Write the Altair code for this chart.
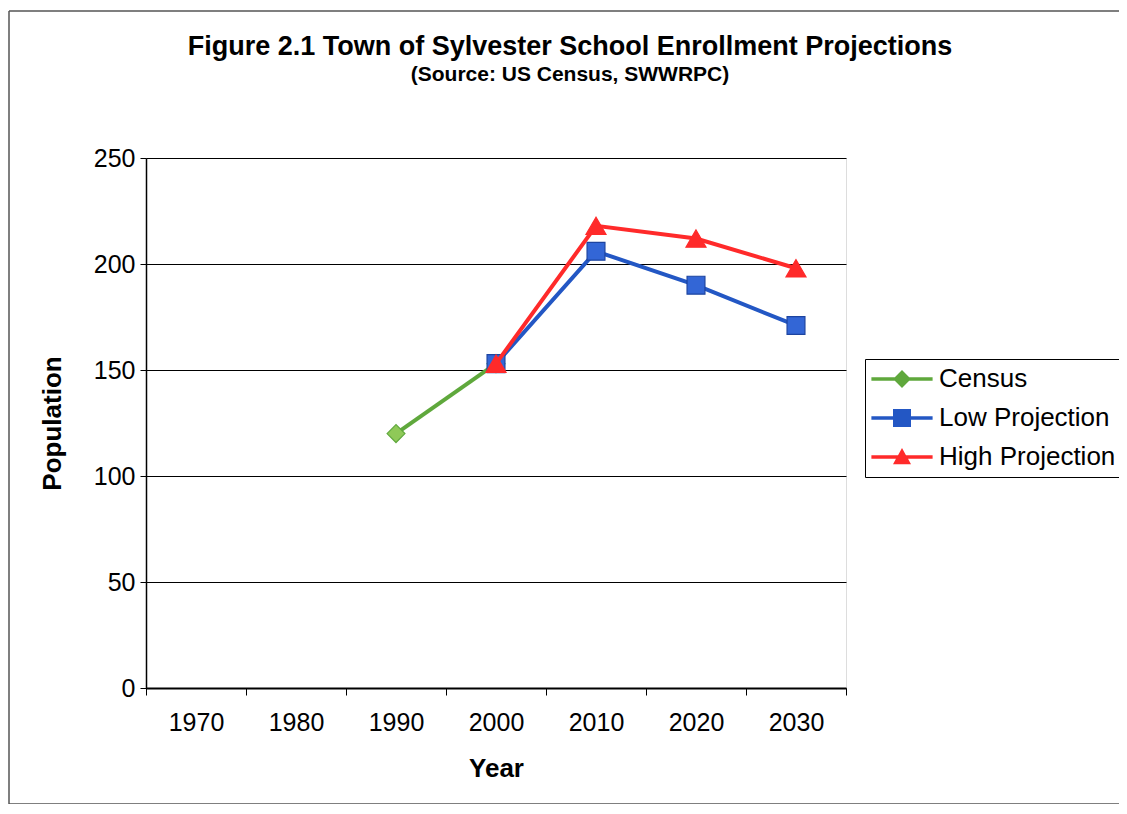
import altair as alt
import pandas as pd

years = ["1970", "1980", "1990", "2000", "2010", "2020", "2030"]
series_names = ["Census", "Low Projection", "High Projection"]
census = [None, None, 120, 153, None, None, None]
low = [None, None, None, 153, 206, 190, 171]
high = [None, None, None, 153, 218, 212, 198]
y_ticks = [0, 50, 100, 150, 200, 250]

rows = []
for name, vals in zip(series_names, [census, low, high]):
    for yr, v in zip(years, vals):
        if v is not None:
            rows.append({"year": yr, "value": v, "series": name})
df = pd.DataFrame(rows)

line_colors = ["#5fa83c", "#2357c4", "#ff2a2a"]
fill_colors = ["#8fc958", "#3366d6", "#ff2a2a"]
edge_colors = ["#5fa83c", "#1d44a0", "#ff2a2a"]
shapes = ["diamond", "square", "triangle-up"]
sizes = [320, 320, 400]

legend_paths = [
    "M-3.4,-0.2H-0.8L0,-1L0.8,-0.2H3.4V0.2H0.8L0,1L-0.8,0.2H-3.4Z",
    "M-3.4,-0.2H-1V-1H1V-0.2H3.4V0.2H1V1H-1V0.2H-3.4Z",
    "M-3.4,-0.2H-0.44L0,-1L0.44,-0.2H3.4V0.2H0.67L1,0.8H-1L-0.67,0.2H-3.4Z",
]

FONT = "Liberation Sans"

x_enc = alt.X(
    "year:O",
    scale=alt.Scale(type="band", domain=years, paddingInner=0, paddingOuter=0),
    axis=alt.Axis(
        title="Year", tickBand="extent", labelAngle=0, labelFontSize=25,
        labelFont=FONT, labelColor="black", labelPadding=15, tickSize=7,
        tickColor="black", domainColor="black", domainWidth=2,
        titleFont=FONT, titleFontSize=26, titleFontWeight="bold",
        titleColor="black", titleY=80, titleBaseline="middle", grid=False,
    ),
)
y_enc = alt.Y(
    "value:Q",
    scale=alt.Scale(domain=[0, 250], nice=False, zero=True),
    axis=alt.Axis(
        values=y_ticks, title="Population", labelFontSize=25, labelFont=FONT,
        labelColor="black", labelPadding=5, tickSize=6, tickColor="black",
        domainColor="black", domainWidth=1.5, grid=True, gridColor="black",
        gridWidth=1, titleFont=FONT, titleFontSize=26, titleFontWeight="bold",
        titleColor="black", titleX=-94, titleY=265, titleBaseline="middle",
    ),
)

base = alt.Chart(df)
layers = []

# chart-area border (top, left, bottom edges; right edge lies off the page)
one = pd.DataFrame({"a": [0]})
border = dict(stroke="#555555", strokeWidth=1.5)
layers.append(alt.Chart(one).mark_rule(**border).encode(
    x=alt.value(-137), x2=alt.value(1000), y=alt.value(-147)))
layers.append(alt.Chart(one).mark_rule(**border).encode(
    x=alt.value(-137), y=alt.value(-147), y2=alt.value(646)))
layers.append(alt.Chart(one).mark_rule(**border).encode(
    x=alt.value(-137), x2=alt.value(1000), y=alt.value(646)))

for i, name in enumerate(series_names):
    sub = base.transform_filter(alt.datum.series == name)
    layers.append(
        sub.mark_line(strokeWidth=4, color=line_colors[i]).encode(x=x_enc, y=y_enc)
    )
    layers.append(
        sub.mark_point(
            shape=shapes[i], filled=True, size=sizes[i], fill=fill_colors[i],
            stroke=edge_colors[i], strokeWidth=1.2, opacity=1,
        ).encode(x=x_enc, y=y_enc)
    )

legend_props = dict(
    title=None, orient="none", legendX=719, legendY=201,
    labelFont=FONT, labelFontSize=26, labelColor="black",
    symbolSize=324, symbolOpacity=1, symbolStrokeWidth=0,
    symbolOffset=17, labelOffset=24, padding=7, rowPadding=13,
    strokeColor="black", fillColor="white", labelLimit=400,
)

legend_layer = base.mark_point(filled=True, opacity=0).encode(
    x=x_enc,
    y=y_enc,
    color=alt.Color(
        "series:N",
        scale=alt.Scale(domain=series_names, range=line_colors),
        legend=alt.Legend(**legend_props),
    ),
    shape=alt.Shape(
        "series:N",
        scale=alt.Scale(domain=series_names, range=legend_paths),
        legend=alt.Legend(**legend_props),
    ),
)
layers.append(legend_layer)

chart = alt.layer(*layers).properties(
    width=700,
    height=530,
    autosize=alt.AutoSizeParams(type="none"),
    padding={"left": 138, "top": 150, "right": 273, "bottom": 116},
    title=alt.TitleParams(
        text="Figure 2.1 Town of Sylvester School Enrollment Projections",
        subtitle="(Source: US Census, SWWRPC)",
        font=FONT, fontSize=27, fontWeight="bold", color="black",
        subtitleFont=FONT, subtitleFontSize=21, subtitleFontWeight="bold",
        subtitleColor="black", subtitlePadding=3,
        anchor="middle", dx=74, offset=-76,
    ),
).configure_view(stroke="black", strokeWidth=1.5).configure(background="white")

chart.save("out.html", embed_options={"renderer": "svg", "actions": False})
